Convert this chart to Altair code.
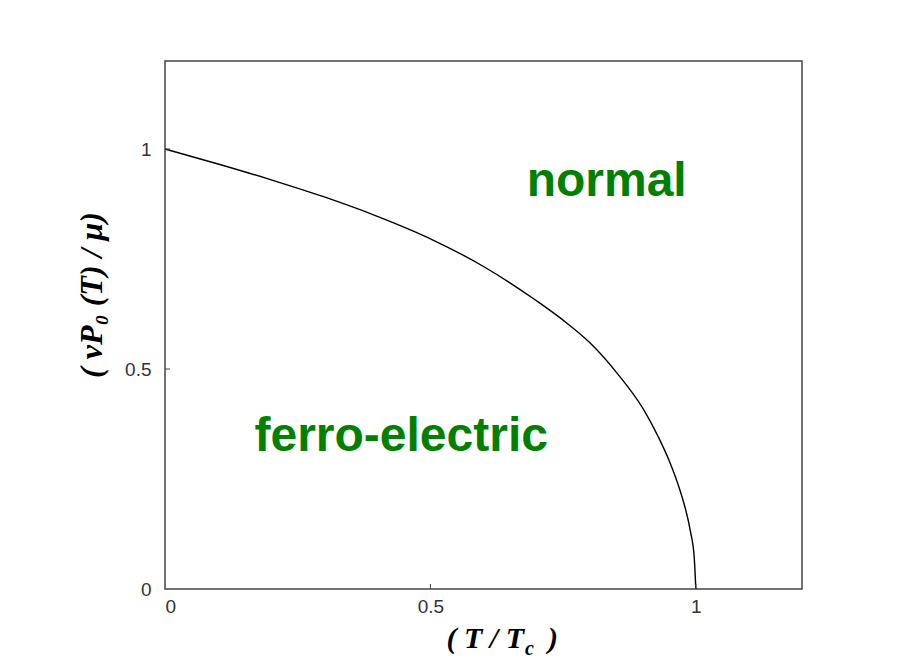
import altair as alt
import pandas as pd

# Curve: reduced temperature vs order parameter
t_ratio = [0.0, 0.1, 0.2, 0.3, 0.4, 0.5, 0.6, 0.7, 0.75, 0.8, 0.85, 0.9,
           0.93, 0.95, 0.97, 0.98, 0.99, 0.997, 1.0]
p_ratio = [1.0, 0.966, 0.930, 0.891, 0.847, 0.796, 0.733, 0.655, 0.611, 0.560, 0.493, 0.411,
           0.344, 0.291, 0.225, 0.184, 0.130, 0.071, 0.0]

tick_values = [0, 0.5, 1]
tick_inner_x = [0.5, 1]
tick_inner_y = [0.5, 1]

region_labels = ["normal", "ferro-electric"]
region_x = [0.832, 0.445]
region_y = [0.925, 0.345]

W, H = 637, 528
GREEN = "#008000"
FRAME = "#444444"

curve_df = pd.DataFrame({"t": t_ratio, "p": p_ratio})

xscale = alt.Scale(domain=[0, 1.2], nice=False, zero=False)
yscale = alt.Scale(domain=[0, 1.2], nice=False, zero=False)

x_axis = alt.Axis(values=tick_values, title=None, grid=False, domain=False, ticks=False,
                  tickSize=0, labelPadding=8, labelFont="Liberation Sans", labelFontSize=19,
                  labelColor="#333333", format="~g")
y_axis = alt.Axis(values=tick_values, title=None, grid=False, domain=False, ticks=False,
                  tickSize=0, labelPadding=14, labelFont="Liberation Sans", labelFontSize=19,
                  labelColor="#333333", format="~g")

curve = alt.Chart(curve_df).mark_line(color="black", strokeWidth=1.4, interpolate="monotone").encode(
    x=alt.X("t:Q", scale=xscale, axis=x_axis),
    y=alt.Y("p:Q", scale=yscale, axis=y_axis),
)

xt = alt.Chart(pd.DataFrame({"v": tick_inner_x})).mark_rule(color=FRAME, strokeWidth=1).encode(
    x=alt.X("v:Q", scale=xscale),
    y=alt.value(H),
    y2=alt.value(H - 5),
)
yt = alt.Chart(pd.DataFrame({"v": tick_inner_y})).mark_rule(color=FRAME, strokeWidth=1).encode(
    y=alt.Y("v:Q", scale=yscale),
    x=alt.value(0),
    x2=alt.value(5),
)

regions = alt.Chart(pd.DataFrame({"lab": region_labels, "x": region_x, "y": region_y})).mark_text(
    font="Liberation Sans", fontWeight="bold", fontSize=48, color=GREEN,
    align="center", baseline="middle"
).encode(
    x=alt.X("x:Q", scale=xscale),
    y=alt.Y("y:Q", scale=yscale),
    text="lab:N",
)

one = pd.DataFrame({"k": [0]})
serif = dict(font="Liberation Serif", fontStyle="italic", fontWeight="bold", color="black")

ytitle = alt.Chart(one).mark_text(angle=270, align="center", baseline="middle", fontSize=32, **serif).encode(
    x=alt.value(-73), y=alt.value(234), text=alt.value("( vP₀ (T) / μ)")
)
xtitle_a = alt.Chart(one).mark_text(align="right", baseline="alphabetic", fontSize=30, **serif).encode(
    x=alt.value(359), y=alt.value(587), text=alt.value("( T / T")
)
xtitle_b = alt.Chart(one).mark_text(align="left", baseline="alphabetic", fontSize=20, **serif).encode(
    x=alt.value(360), y=alt.value(594), text=alt.value("c")
)
xtitle_c = alt.Chart(one).mark_text(align="left", baseline="alphabetic", fontSize=30, **serif).encode(
    x=alt.value(383), y=alt.value(587), text=alt.value(")")
)

chart = alt.layer(curve, xt, yt, regions, ytitle, xtitle_a, xtitle_b, xtitle_c).properties(
    width=W, height=H,
    autosize=alt.AutoSizeParams(type="none"),
    padding={"left": 157, "top": 53, "right": 100, "bottom": 70},
    background="white",
).configure_view(stroke=FRAME, strokeWidth=1.5)

chart.save("out.html", embed_options={"renderer": "svg", "actions": False})
